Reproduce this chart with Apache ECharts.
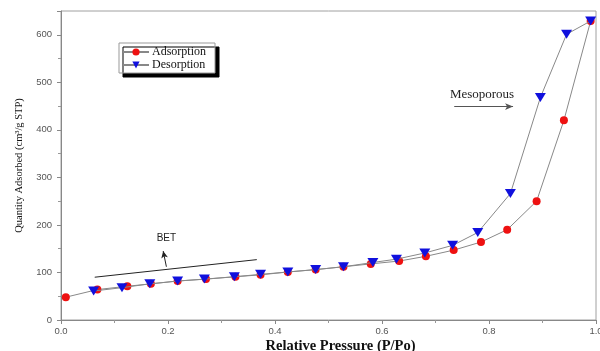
<!DOCTYPE html>
<html>
<head>
<meta charset="utf-8">
<script src="https://cdn.jsdelivr.net/npm/echarts@6/dist/echarts.min.js"></script>
<style>
html,body{margin:0;padding:0;background:#fff;}
#c{width:600px;height:351px;}
</style>
</head>
<body>
<div id="c"></div>
<script>
// Data
var adsX = [0.009, 0.068, 0.124, 0.168, 0.218, 0.271, 0.326, 0.373, 0.424, 0.476, 0.528, 0.579, 0.632, 0.682, 0.734, 0.785, 0.834, 0.889, 0.940, 0.990];
var adsY = [48, 64, 71, 76, 82, 86, 91, 95, 101, 106, 112, 118, 124, 134, 147, 164, 190, 250, 420, 629];
var desX = [0.990, 0.945, 0.896, 0.840, 0.779, 0.732, 0.680, 0.627, 0.583, 0.528, 0.476, 0.424, 0.373, 0.324, 0.268, 0.218, 0.166, 0.114, 0.061];
var desY = [629, 601, 468, 266, 184, 157, 141, 128, 121, 112, 106, 101, 96, 91, 86, 82, 76, 68, 61];
var seriesNames = ['Adsorption', 'Desorption'];
var xTicks = [0, 0.2, 0.4, 0.6, 0.8, 1.0];
var yTicks = [0, 100, 200, 300, 400, 500, 600];
// annotations (data coordinates)
var betLine = [[0.063, 90], [0.366, 127]];
var betArrow = [[0.197, 112], [0.191, 145]];
var betLabel = [0.197, 171];
var mesoArrow = [[0.735, 449], [0.845, 449]];
var mesoLabel = [0.787, 474];

function pairs(xs, ys){ return xs.map(function(x,i){ return [x, ys[i]]; }); }

var chart = echarts.init(document.getElementById('c'));
var serif = '"Liberation Serif", "DejaVu Serif", serif';
var sans = '"Liberation Sans", Arial, sans-serif';
chart.setOption({
  animation: false,
  grid: { left: 61, right: 4, top: 11, bottom: 31, show: true, borderColor: '#a0a0a0', borderWidth: 1,
          outerBoundsMode: 'none', containLabel: false },
  legend: {
    data: seriesNames,
    orient: 'vertical',
    left: 119, top: 43,
    itemWidth: 26, itemHeight: 9, itemGap: 1,
    padding: [3, 9, 2, 3],
    backgroundColor: '#fff',
    borderColor: '#999', borderWidth: 1,
    shadowColor: '#000', shadowBlur: 0, shadowOffsetX: 4, shadowOffsetY: 4,
    textStyle: { fontFamily: serif, fontSize: 12, lineHeight: 11, color: '#111', padding: [0,0,0,-2] }
  },
  xAxis: {
    type: 'value', min: 0, max: 1, interval: 0.2,
    name: 'Relative Pressure (P/Po)', nameLocation: 'middle', nameGap: 19, nameMoveOverlap: false,
    nameTextStyle: { fontFamily: serif, fontSize: 14.5, fontWeight: 'bold', color: '#111', padding: [0, 0, 0, 24] },
    axisLine: { lineStyle: { color: '#888' } },
    axisTick: { length: 4, lineStyle: { color: '#888' } },
    minorTick: { show: true, splitNumber: 2, length: 3, lineStyle: { color: '#999' } },
    splitLine: { show: false },
    axisLabel: { fontFamily: sans, fontSize: 9.5, color: '#555', margin: 6,
      formatter: function(v){ return v.toFixed(1); } }
  },
  yAxis: {
    type: 'value', min: 0, max: 650, interval: 100,
    name: 'Quantity Adsorbed (cm³/g STP)', nameLocation: 'middle', nameGap: 36, nameRotate: 90, nameMoveOverlap: false,
    nameTextStyle: { fontFamily: serif, fontSize: 10.5, color: '#111' },
    axisLine: { lineStyle: { color: '#888' } },
    axisTick: { length: 4, lineStyle: { color: '#888' } },
    minorTick: { show: true, splitNumber: 2, length: 3, lineStyle: { color: '#999' } },
    splitLine: { show: false },
    axisLabel: { fontFamily: sans, fontSize: 9.5, color: '#555', margin: 9, showMaxLabel: false,
      formatter: function(v){ return yTicks.indexOf(v) >= 0 ? String(v) : ''; } }
  },
  series: [
    {
      name: seriesNames[0], type: 'line', data: pairs(adsX, adsY),
      symbol: 'circle', symbolSize: 8,
      itemStyle: { color: '#ee1111' },
      lineStyle: { color: '#888', width: 1 },
      z: 3
    },
    {
      name: seriesNames[1], type: 'line', data: pairs(desX, desY),
      symbol: 'triangle', symbolSize: [11, 9], symbolRotate: 180,
      itemStyle: { color: '#1010dd' },
      lineStyle: { color: '#888', width: 1 },
      z: 4
    },
    {
      name: 'annot', type: 'line', data: [],
      silent: true,
      markLine: {
        silent: true, animation: false,
        label: { show: false },
        symbol: ['none', 'none'],
        lineStyle: { color: '#222', width: 1, type: 'solid' },
        data: [
          [{ coord: betLine[0] }, { coord: betLine[1] }],
          [{ coord: betArrow[0], symbol: 'none' }, { coord: betArrow[1], symbol: 'arrow', symbolSize: [5, 7] }],
          [{ coord: mesoArrow[0], symbol: 'none', lineStyle: { color: '#555' } }, { coord: mesoArrow[1], symbol: 'arrow', symbolSize: [5, 8] }]
        ]
      },
      markPoint: {
        silent: true, symbol: 'circle', symbolSize: 0,
        data: [
          { coord: betLabel, value: 'BET', label: { show: true, position: 'inside', formatter: 'BET', fontFamily: sans, fontSize: 10, color: '#222' } },
          { coord: mesoLabel, value: 'Mesoporous', label: { show: true, position: 'inside', formatter: 'Mesoporous', fontFamily: serif, fontSize: 13, color: '#222' } }
        ]
      }
    }
  ]
});
</script>
</body>
</html>
